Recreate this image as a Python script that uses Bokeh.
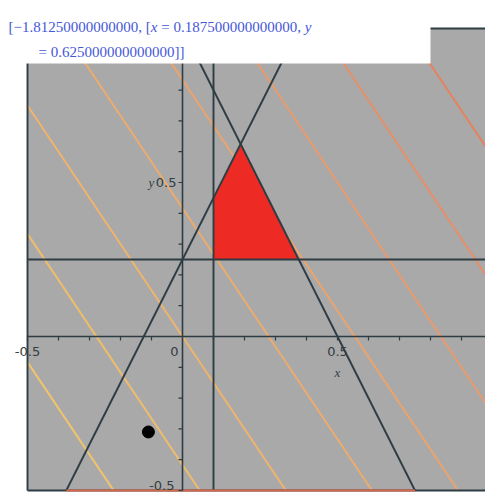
from bokeh.plotting import figure
from bokeh.models import Range1d, Label
from bokeh.embed import file_html
from bokeh.resources import INLINE

# ---------------- data ----------------
obj_a, obj_b = -3.0, -2.0            # objective f = -3x - 2y
opt_value = -1.8125
opt_x = 0.1875
opt_y = 0.625
contour_levels = [1.6667, 0.8333, 0.0, -0.8333, -1.6667, -2.5, -3.3333, -4.1667]
contour_colors = ["#F2C46C", "#F1BC6C", "#F0B46C", "#EEAC6C",
                  "#ECA46C", "#EA9A6C", "#E88E68", "#E58262"]
region_x = [0.1, 0.375, 0.1875, 0.1]
region_y = [0.25, 0.25, 0.625, 0.45]
# boundary lines a*x + b*y = c
bound_a = [0.0, 1.0, -2.0, 2.0]
bound_b = [1.0, 0.0, 1.0, 1.0]
bound_c = [0.25, 0.1, 0.25, 1.0]
point_x = [-0.11]
point_y = [-0.31]
x_min, x_max, y_min, y_max = -0.5, 1.0, -0.5, 1.0
tick_vals = [round(-0.5 + 0.1 * i, 1) for i in range(16)]
x_tick_labels = {-0.5: "-0.5", 0.0: "0", 0.5: "0.5"}
y_tick_labels = {0.5: "0.5", -0.5: "-0.5"}

# ---------------- layout mapping ----------------
W, H = 485, 495
SX, SY = 310.0, 308.0
X0 = x_min - 27 / SX
X1 = X0 + W / SX
Y1 = y_max + 28 / SY
Y0 = Y1 - H / SY


def px2x(px):
    return X0 + px / SX


def px2y(py):
    return Y1 - py / SY


def clip_line(a, b, c):
    pts = []
    if abs(b) > 1e-12:
        for x in (x_min, x_max):
            y = (c - a * x) / b
            if y_min - 1e-9 <= y <= y_max + 1e-9:
                pts.append((x, y))
    if abs(a) > 1e-12:
        for y in (y_min, y_max):
            x = (c - b * y) / a
            if x_min - 1e-9 <= x <= x_max + 1e-9:
                pts.append((x, y))
    pts = sorted(set((round(px, 9), round(py, 9)) for px, py in pts))
    return pts[0], pts[-1]


p = figure(width=W, height=H, output_backend="svg", toolbar_location=None,
           x_range=Range1d(X0, X1), y_range=Range1d(Y0, Y1),
           min_border=0, background_fill_color="white", border_fill_color="white")
p.axis.visible = False
p.grid.visible = False
p.outline_line_color = None

# gray plotting domain
p.quad(left=[x_min], right=[x_max], bottom=[y_min], top=[y_max],
       fill_color="#A9A9A9", line_color=None)

# objective contours
for lev, col in zip(contour_levels, contour_colors):
    (xa, ya), (xb, yb) = clip_line(obj_a, obj_b, lev)
    p.line([xa, xb], [ya, yb], line_color=col, line_width=2)

# feasible region
p.patch(region_x, region_y, fill_color="#EE2A24", line_color=None)

dark = "#2E3D44"
# constraint boundary lines
for a, b, c in zip(bound_a, bound_b, bound_c):
    (xa, ya), (xb, yb) = clip_line(a, b, c)
    p.line([xa, xb], [ya, yb], line_color=dark, line_width=1.9)

# frame edges
p.line([x_min, x_min], [y_min, y_max], line_color=dark, line_width=1.9)
p.line([x_min, x_max], [y_max, y_max], line_color=dark, line_width=1.9)
p.line([x_min, x_max], [y_min, y_min], line_color=dark, line_width=1.9)
# bottom orange segment between the two diagonal constraints
xl = (bound_c[2] - bound_b[2] * y_min) / bound_a[2]
xr = (bound_c[3] - bound_b[3] * y_min) / bound_a[3]
p.line([xl, xr], [y_min, y_min], line_color="#D8684C", line_width=2)

# axes
p.line([x_min, x_max], [0, 0], line_color=dark, line_width=1.6)
p.line([0, 0], [y_min, y_max], line_color=dark, line_width=1.6)
xt = [t for t in tick_vals if t != 0]
p.segment(x0=xt, y0=[0] * len(xt), x1=xt, y1=[-4 / SY] * len(xt),
          line_color=dark, line_width=1.2)
p.segment(x0=[0] * len(xt), y0=xt, x1=[-4 / SX] * len(xt), y1=xt,
          line_color=dark, line_width=1.2)

# point
p.scatter(point_x, point_y, size=12, color="black")

lab_col = "#333D42"
for v, t in x_tick_labels.items():
    xx = v if v != 0 else v - 8 / SX
    p.add_layout(Label(x=xx, y=-10 / SY, text=t, text_align="center",
                       text_baseline="top", text_font="DejaVu Sans",
                       text_font_size="13px", text_color=lab_col))
for v, t in y_tick_labels.items():
    if v == y_min:
        p.add_layout(Label(x=-8 / SX, y=px2y(489), text=t, text_align="right",
                           text_baseline="bottom", text_font="DejaVu Sans",
                           text_font_size="13px", text_color=lab_col))
    else:
        p.add_layout(Label(x=-6 / SX, y=v, text=t, text_align="right",
                           text_baseline="middle", text_font="DejaVu Sans",
                           text_font_size="13px", text_color=lab_col))
p.add_layout(Label(x=0.5, y=-36 / SY, text="x", text_align="center",
                   text_baseline="middle", text_font="Liberation Serif",
                   text_font_style="italic", text_font_size="13px", text_color=lab_col))
p.add_layout(Label(x=-31 / SX, y=0.5, text="y", text_align="center",
                   text_baseline="middle", text_font="Liberation Serif",
                   text_font_style="italic", text_font_size="13px", text_color=lab_col))

# output box on top
p.quad(left=[X0], right=[px2x(430)], top=[Y1], bottom=[px2y(63)],
       fill_color="white", line_color=None)

blue = "#4658D8"
NB = "\u00a0"
pieces = [(8, 26, "[\u22121.81250000000000," + NB + "[", "normal"),
          (150.3, 26, "x", "italic"),
          (157, 26, NB + "=" + NB + "0.187500000000000," + NB, "normal"),
          (304.2, 26, "y", "italic"),
          (38, 51, "=" + NB + "0.625000000000000]]", "normal")]
for px, py, t, st in pieces:
    p.add_layout(Label(x=px2x(px), y=px2y(py), text=t, text_align="left",
                       text_baseline="alphabetic", text_font="Liberation Serif",
                       text_font_style=st, text_font_size="15px", text_color=blue))

open("out.html", "w").write(file_html(p, INLINE))
